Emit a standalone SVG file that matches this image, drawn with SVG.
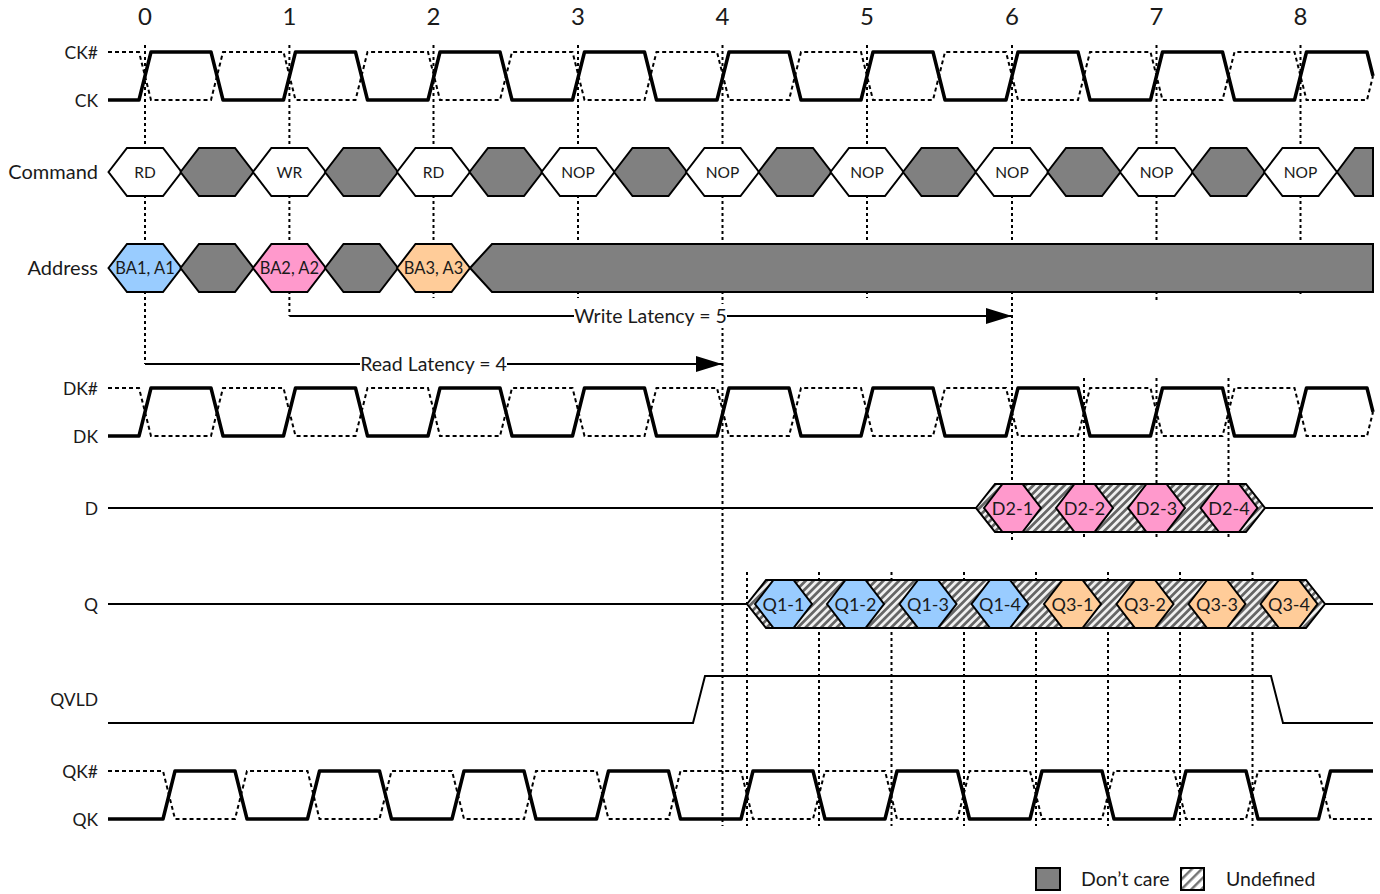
<svg xmlns="http://www.w3.org/2000/svg" width="1380" height="894" viewBox="0 0 1380 894">
<style>
text{font-family:Lato,Carlito,"Liberation Sans",sans-serif;fill:#1a1a1a}
.lb{font-size:20px;text-anchor:end}
.cap{font-size:17.500px}
.n{font-size:24px;text-anchor:middle}
.c{font-size:15.500px;text-anchor:middle}
.a{font-size:16.500px;text-anchor:middle}
.d{font-size:18px;text-anchor:middle}
.t{font-size:19.500px}
.hx{stroke:#000;stroke-width:2;stroke-linejoin:miter}
.g{fill:#808080}.w{fill:#fff}.b{fill:#99ccff}.p{fill:#ff99cc}.o{fill:#ffcc99}
.clk{fill:none;stroke:#000;stroke-width:3.500;stroke-linejoin:round}
.ds{fill:none;stroke:#000;stroke-width:2;stroke-dasharray:4 3}
.v{fill:none;stroke:#000;stroke-width:2;stroke-dasharray:3 3}
.ln{fill:none;stroke:#000;stroke-width:2}
</style>
<defs>
<pattern id="hatch" patternUnits="userSpaceOnUse" width="5.500" height="5.500" patternTransform="rotate(-45)"><rect width="5.500" height="5.500" fill="#f0f0f0"/><rect width="5.500" height="2.750" fill="#666"/></pattern>
<pattern id="hatch2" patternUnits="userSpaceOnUse" width="7" height="7" patternTransform="rotate(-45)"><rect width="7" height="7" fill="#fff"/><rect width="7" height="2.500" fill="#777"/></pattern>
<marker id="ah" markerUnits="userSpaceOnUse" markerWidth="26" markerHeight="16" refX="26" refY="8" orient="auto"><path d="M0 0L26 8L0 16Z" fill="#000"/></marker>
<path id="h72" d="M-36.500 0L-18 -24H18L36.500 0L18 24H-18Z"/>
<path id="h57" d="M-28.500 0L-10 -24H10L28.500 0L10 24H-10Z"/>
</defs>

<g id="connectors">
<path class="v" d="M145 45V364M289.400 45V316M433.500 45V298M578 45V298M722.500 45V826M867 45V298M1012 45V540M1156.500 45V300M1300.500 45V295M1084 378V540M1156.500 378V540M1228.500 378V540M747 572V826M819 572V826M891.500 572V826M964 572V826M1036 572V826M1108 572V826M1180 572V826M1252.500 572V826"/>
<path class="ln" d="M145 364H722" marker-end="url(#ah)"/>
<path class="ln" d="M289.400 316H1012" marker-end="url(#ah)"/>
</g>

<g id="header">
<text class="n" x="145" y="25">0</text><text class="n" x="289.400" y="25">1</text><text class="n" x="433.500" y="25">2</text><text class="n" x="578" y="25">3</text><text class="n" x="722.500" y="25">4</text><text class="n" x="867" y="25">5</text><text class="n" x="1012" y="25">6</text><text class="n" x="1156.500" y="25">7</text><text class="n" x="1300.500" y="25">8</text>
</g>

<g id="sig-ck">
<text class="lb cap" x="98" y="58.500">CK#</text><text class="lb cap" x="98" y="106.500">CK</text>
<path class="ds" d="M108 52H139L151 100H211L223 52H283.500L295.500 100H355.500L367.500 52H428L440 100H500L512 52H572.500L584.500 100H644.500L656.500 52H717L729 100H789L801 52H861L873 100H933L945 52H1006L1018 100H1078L1090 52H1150.500L1162.500 100H1222.500L1234.500 52H1294.500L1306.500 100H1367L1373 76"/>
<path class="clk" d="M108 100H139L151 52H211L223 100H283.500L295.500 52H355.500L367.500 100H428L440 52H500L512 100H572.500L584.500 52H644.500L656.500 100H717L729 52H789L801 100H861L873 52H933L945 100H1006L1018 52H1078L1090 100H1150.500L1162.500 52H1222.500L1234.500 100H1294.500L1306.500 52H1367L1373 76"/>
</g>

<g id="sig-command">
<text class="lb" x="98" y="179">Command</text>
<g class="hx">
<use href="#h72" class="w" x="145" y="172"/><use href="#h72" class="g" x="217" y="172"/>
<use href="#h72" class="w" x="289.400" y="172"/><use href="#h72" class="g" x="361.500" y="172"/>
<use href="#h72" class="w" x="433.500" y="172"/><use href="#h72" class="g" x="506" y="172"/>
<use href="#h72" class="w" x="578" y="172"/><use href="#h72" class="g" x="650.500" y="172"/>
<use href="#h72" class="w" x="722.500" y="172"/><use href="#h72" class="g" x="795" y="172"/>
<use href="#h72" class="w" x="867" y="172"/><use href="#h72" class="g" x="939.500" y="172"/>
<use href="#h72" class="w" x="1012" y="172"/><use href="#h72" class="g" x="1084" y="172"/>
<use href="#h72" class="w" x="1156.500" y="172"/><use href="#h72" class="g" x="1228.500" y="172"/>
<use href="#h72" class="w" x="1300.500" y="172"/>
<path class="g" d="M1337 172L1355 148H1373V196H1355Z"/>
</g>
<text class="c" x="145" y="177.500">RD</text><text class="c" x="289.400" y="177.500">WR</text><text class="c" x="433.500" y="177.500">RD</text><text class="c" x="578" y="177.500">NOP</text><text class="c" x="722.500" y="177.500">NOP</text><text class="c" x="867" y="177.500">NOP</text><text class="c" x="1012" y="177.500">NOP</text><text class="c" x="1156.500" y="177.500">NOP</text><text class="c" x="1300.500" y="177.500">NOP</text>
</g>

<g id="sig-address">
<text class="lb" x="98" y="275">Address</text>
<g class="hx">
<use href="#h72" class="b" x="145" y="268"/><use href="#h72" class="g" x="217" y="268"/>
<use href="#h72" class="p" x="289.400" y="268"/><use href="#h72" class="g" x="361.500" y="268"/>
<use href="#h72" class="o" x="433.500" y="268"/>
<path class="g" d="M470 268L492 244H1373V292H492Z"/>
</g>
<text class="a" x="145" y="273.500">BA1, A1</text><text class="a" x="289.400" y="273.500">BA2, A2</text><text class="a" x="433.500" y="273.500">BA3, A3</text>
</g>

<g id="latency-labels">
<rect x="574" y="304" width="153" height="24" fill="#fff"/><text class="t" x="650.500" y="323" text-anchor="middle">Write Latency = 5</text>
<rect x="360" y="352" width="147" height="24" fill="#fff"/><text class="t" x="433.500" y="371" text-anchor="middle">Read Latency = 4</text>
</g>

<g id="sig-dk">
<text class="lb cap" x="98" y="394.500">DK#</text><text class="lb cap" x="98" y="442.500">DK</text>
<path class="ds" d="M108 388H139L151 436H211L223 388H283.500L295.500 436H355.500L367.500 388H428L440 436H500L512 388H572.500L584.500 436H644.500L656.500 388H717L729 436H789L801 388H861L873 436H933L945 388H1006L1018 436H1078L1090 388H1150.500L1162.500 436H1222.500L1234.500 388H1294.500L1306.500 436H1367L1373 412"/>
<path class="clk" d="M108 436H139L151 388H211L223 436H283.500L295.500 388H355.500L367.500 436H428L440 388H500L512 436H572.500L584.500 388H644.500L656.500 436H717L729 388H789L801 436H861L873 388H933L945 436H1006L1018 388H1078L1090 436H1150.500L1162.500 388H1222.500L1234.500 436H1294.500L1306.500 388H1367L1373 412"/>
</g>

<g id="sig-d">
<text class="lb cap" x="98" y="514.500">D</text>
<path class="ln" d="M108 508H976M1265 508H1373"/>
<path class="hx" fill="url(#hatch)" d="M976 508L995 484H1246L1265 508L1246 532H995Z"/>
<g class="hx p">
<use href="#h57" x="1012.500" y="508"/><use href="#h57" x="1084.500" y="508"/><use href="#h57" x="1156.500" y="508"/><use href="#h57" x="1229" y="508"/>
</g>
<text class="d" x="1012.500" y="514.500">D2-1</text><text class="d" x="1084.500" y="514.500">D2-2</text><text class="d" x="1156.500" y="514.500">D2-3</text><text class="d" x="1229" y="514.500">D2-4</text>
</g>

<g id="sig-q">
<text class="lb cap" x="98" y="610.500">Q</text>
<path class="ln" d="M108 604H747M1325 604H1373"/>
<path class="hx" fill="url(#hatch)" d="M747 604L766 580H1306L1325 604L1306 628H766Z"/>
<g class="hx b"><use href="#h57" x="783.500" y="604"/><use href="#h57" x="855.500" y="604"/><use href="#h57" x="928" y="604"/><use href="#h57" x="1000" y="604"/></g>
<g class="hx o"><use href="#h57" x="1072.500" y="604"/><use href="#h57" x="1145" y="604"/><use href="#h57" x="1217" y="604"/><use href="#h57" x="1289" y="604"/></g>
<text class="d" x="783.500" y="610.500">Q1-1</text><text class="d" x="855.500" y="610.500">Q1-2</text><text class="d" x="928" y="610.500">Q1-3</text><text class="d" x="1000" y="610.500">Q1-4</text><text class="d" x="1072.500" y="610.500">Q3-1</text><text class="d" x="1145" y="610.500">Q3-2</text><text class="d" x="1217" y="610.500">Q3-3</text><text class="d" x="1289" y="610.500">Q3-4</text>
</g>

<g id="sig-qvld">
<text class="lb cap" x="98" y="705.500">QVLD</text>
<path class="ln" d="M108 723H693L705 676H1271L1283 723H1373"/>
</g>

<g id="sig-qk">
<text class="lb cap" x="98" y="777.500">QK#</text><text class="lb cap" x="98" y="825.500">QK</text>
<path class="ds" d="M108 771H163L175 819H235L247 771H307.500L319.500 819H379.500L391.500 771H452L464 819H524L536 771H596.500L608.500 819H668.500L680.500 771H741L753 819H813L825 771H885L897 819H957.500L969.500 771H1030L1042 819H1102L1114 771H1174L1186 819H1246L1258 771H1318.500L1330.500 819H1373"/>
<path class="clk" d="M108 819H163L175 771H235L247 819H307.500L319.500 771H379.500L391.500 819H452L464 771H524L536 819H596.500L608.500 771H668.500L680.500 819H741L753 771H813L825 819H885L897 771H957.500L969.500 819H1030L1042 771H1102L1114 819H1174L1186 771H1246L1258 819H1318.500L1330.500 771H1373"/>
</g>

<g id="legend">
<rect x="1036" y="868" width="24" height="22" fill="#808080" stroke="#000" stroke-width="2"/>
<text class="t" x="1081" y="886">Don’t care</text>
<rect x="1181" y="868" width="23" height="22" fill="url(#hatch2)" stroke="#000" stroke-width="2"/>
<text class="t" x="1226" y="886">Undefined</text>
</g>
</svg>
